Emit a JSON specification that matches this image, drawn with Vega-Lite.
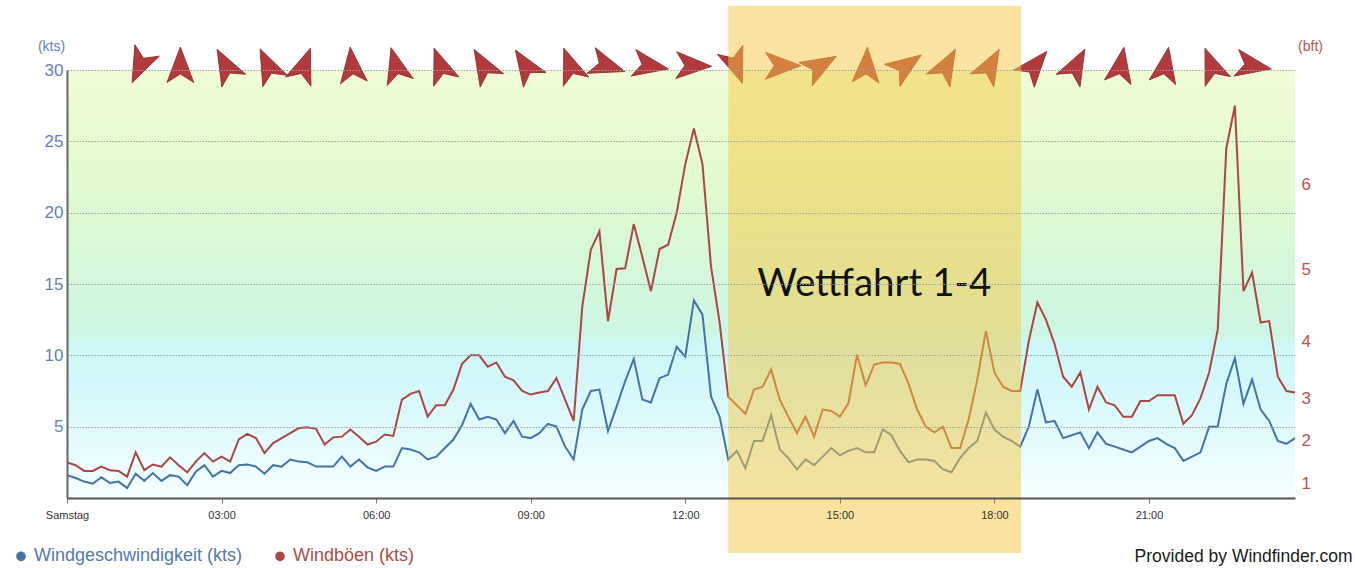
{
 "$schema": "https://vega.github.io/schema/vega-lite/v6.json",
 "width": 1228,
 "height": 428,
 "autosize": {"type": "none"},
 "padding": {"left": 67, "top": 70, "right": 60, "bottom": 70},
 "background": "white",
 "config": {"view": {"stroke": null}, "font": "Liberation Sans"},
 "datasets": {
  "wind": [
   {"min":0,"speed":1.6,"gust":2.5},{"min":10,"speed":1.4,"gust":2.3},{"min":20,"speed":1.15,"gust":1.9},{"min":30,"speed":1.0,"gust":1.9},
   {"min":40,"speed":1.45,"gust":2.2},{"min":50,"speed":1.05,"gust":1.95},{"min":60,"speed":1.15,"gust":1.9},{"min":70,"speed":0.7,"gust":1.5},
   {"min":80,"speed":1.7,"gust":3.2},{"min":90,"speed":1.2,"gust":1.95},{"min":100,"speed":1.75,"gust":2.35},{"min":110,"speed":1.2,"gust":2.2},
   {"min":120,"speed":1.6,"gust":2.85},{"min":130,"speed":1.5,"gust":2.3},{"min":140,"speed":0.9,"gust":1.8},{"min":150,"speed":1.85,"gust":2.55},
   {"min":160,"speed":2.3,"gust":3.15},{"min":170,"speed":1.5,"gust":2.55},{"min":180,"speed":1.9,"gust":2.9},{"min":190,"speed":1.75,"gust":2.55},
   {"min":200,"speed":2.3,"gust":4.1},{"min":210,"speed":2.35,"gust":4.5},{"min":220,"speed":2.2,"gust":4.2},{"min":230,"speed":1.7,"gust":3.15},
   {"min":240,"speed":2.3,"gust":3.85},{"min":250,"speed":2.2,"gust":4.2},{"min":260,"speed":2.7,"gust":4.55},{"min":270,"speed":2.55,"gust":4.9},
   {"min":280,"speed":2.5,"gust":4.95},{"min":290,"speed":2.2,"gust":4.85},{"min":300,"speed":2.2,"gust":3.75},{"min":310,"speed":2.2,"gust":4.25},
   {"min":320,"speed":2.9,"gust":4.3},{"min":330,"speed":2.2,"gust":4.8},{"min":340,"speed":2.7,"gust":4.3},{"min":350,"speed":2.15,"gust":3.75},
   {"min":360,"speed":1.9,"gust":3.95},{"min":370,"speed":2.2,"gust":4.45},{"min":380,"speed":2.2,"gust":4.35},{"min":390,"speed":3.5,"gust":6.9},
   {"min":400,"speed":3.4,"gust":7.3},{"min":410,"speed":3.2,"gust":7.5},{"min":420,"speed":2.7,"gust":5.7},{"min":430,"speed":2.9,"gust":6.5},
   {"min":440,"speed":3.5,"gust":6.5},{"min":450,"speed":4.1,"gust":7.6},{"min":460,"speed":5.1,"gust":9.4},{"min":470,"speed":6.6,"gust":10.0},
   {"min":480,"speed":5.5,"gust":10.0},{"min":490,"speed":5.7,"gust":9.2},{"min":500,"speed":5.5,"gust":9.5},{"min":510,"speed":4.55,"gust":8.5},
   {"min":520,"speed":5.4,"gust":8.25},{"min":530,"speed":4.3,"gust":7.5},{"min":540,"speed":4.2,"gust":7.25},{"min":550,"speed":4.55,"gust":7.4},
   {"min":560,"speed":5.2,"gust":7.5},{"min":570,"speed":5.0,"gust":8.4},{"min":580,"speed":3.6,"gust":6.9},{"min":590,"speed":2.7,"gust":5.4},
   {"min":600,"speed":6.2,"gust":13.4},{"min":610,"speed":7.5,"gust":17.4},{"min":620,"speed":7.6,"gust":18.7},{"min":630,"speed":4.7,"gust":12.4},
   {"min":640,"speed":6.4,"gust":16.05},{"min":650,"speed":8.2,"gust":16.1},{"min":660,"speed":9.75,"gust":19.2},{"min":670,"speed":6.9,"gust":16.9},
   {"min":680,"speed":6.7,"gust":14.5},{"min":690,"speed":8.4,"gust":17.45},{"min":700,"speed":8.65,"gust":17.75},{"min":710,"speed":10.6,"gust":20.0},
   {"min":720,"speed":9.9,"gust":23.4},{"min":730,"speed":13.85,"gust":25.9},{"min":740,"speed":12.85,"gust":23.4},{"min":750,"speed":7.1,"gust":16.2},
   {"min":760,"speed":5.7,"gust":12.3},{"min":770,"speed":2.7,"gust":7.1},{"min":780,"speed":3.3,"gust":6.5},{"min":790,"speed":2.1,"gust":5.9},
   {"min":800,"speed":4.0,"gust":7.6},{"min":810,"speed":4.0,"gust":7.8},{"min":820,"speed":5.8,"gust":9.0},{"min":830,"speed":3.4,"gust":6.9},
   {"min":840,"speed":2.8,"gust":5.7},{"min":850,"speed":2.0,"gust":4.55},{"min":860,"speed":2.7,"gust":5.7},{"min":870,"speed":2.3,"gust":4.3},
   {"min":880,"speed":2.9,"gust":6.2},{"min":890,"speed":3.5,"gust":6.1},{"min":900,"speed":3.0,"gust":5.7},{"min":910,"speed":3.3,"gust":6.65},
   {"min":920,"speed":3.5,"gust":10.05},{"min":930,"speed":3.2,"gust":7.9},{"min":940,"speed":3.2,"gust":9.35},{"min":950,"speed":4.8,"gust":9.5},
   {"min":960,"speed":4.4,"gust":9.5},{"min":970,"speed":3.3,"gust":9.4},{"min":980,"speed":2.5,"gust":8.0},{"min":990,"speed":2.7,"gust":6.2},
   {"min":1000,"speed":2.7,"gust":5.0},{"min":1010,"speed":2.6,"gust":4.6},{"min":1020,"speed":2.0,"gust":5.0},{"min":1030,"speed":1.8,"gust":3.5},
   {"min":1040,"speed":2.8,"gust":3.5},{"min":1050,"speed":3.5,"gust":5.5},{"min":1060,"speed":4.0,"gust":8.3},{"min":1070,"speed":6.0,"gust":11.7},
   {"min":1080,"speed":4.8,"gust":8.8},{"min":1090,"speed":4.3,"gust":7.8},{"min":1100,"speed":4.0,"gust":7.5},{"min":1110,"speed":3.6,"gust":7.5},
   {"min":1120,"speed":5.0,"gust":11.0},{"min":1130,"speed":7.6,"gust":13.7},{"min":1140,"speed":5.3,"gust":12.5},{"min":1150,"speed":5.4,"gust":10.8},
   {"min":1160,"speed":4.2,"gust":8.5},{"min":1170,"speed":4.4,"gust":7.8},{"min":1180,"speed":4.6,"gust":8.8},{"min":1190,"speed":3.5,"gust":6.2},
   {"min":1200,"speed":4.6,"gust":7.8},{"min":1210,"speed":3.8,"gust":6.7},{"min":1220,"speed":3.6,"gust":6.5},{"min":1230,"speed":3.4,"gust":5.7},
   {"min":1240,"speed":3.2,"gust":5.7},{"min":1250,"speed":3.6,"gust":6.8},{"min":1260,"speed":4.0,"gust":6.8},{"min":1270,"speed":4.2,"gust":7.2},
   {"min":1280,"speed":3.8,"gust":7.2},{"min":1290,"speed":3.5,"gust":7.2},{"min":1300,"speed":2.6,"gust":5.2},{"min":1310,"speed":2.9,"gust":5.8},
   {"min":1320,"speed":3.2,"gust":7.0},{"min":1330,"speed":5.0,"gust":8.8},{"min":1340,"speed":5.0,"gust":11.8},{"min":1350,"speed":8.0,"gust":24.5},
   {"min":1360,"speed":9.8,"gust":27.5},{"min":1370,"speed":6.6,"gust":14.5},{"min":1380,"speed":8.3,"gust":15.8},{"min":1390,"speed":6.2,"gust":12.3},
   {"min":1400,"speed":5.4,"gust":12.4},{"min":1410,"speed":4.0,"gust":8.5},{"min":1420,"speed":3.8,"gust":7.5},{"min":1430,"speed":4.2,"gust":7.4}
  ],
  "dirs": [
   {"min":85,"dir":205},{"min":132,"dir":0},{"min":185,"dir":-28},{"min":234,"dir":-25},{"min":276,"dir":20},
   {"min":332,"dir":-6},{"min":383,"dir":-15},{"min":435,"dir":-20},{"min":485,"dir":-30},{"min":534,"dir":-33},
   {"min":586,"dir":-20},{"min":629,"dir":108},{"min":679,"dir":100},{"min":729,"dir":92},{"min":779,"dir":160},
   {"min":833,"dir":90},{"min":877,"dir":60},{"min":931,"dir":3},{"min":977,"dir":55},{"min":1024,"dir":29},
   {"min":1075,"dir":29},{"min":1127,"dir":40},{"min":1175,"dir":28},{"min":1227,"dir":10},{"min":1279,"dir":10},
   {"min":1333,"dir":-21},{"min":1381,"dir":100}
  ],
  "events": [
   {"label": "Wettfahrt 1-4", "start": 770, "end": 1111}
  ]
 },
 "resolve": {"axis": {"y": "independent"}},
 "layer": [
  {
   "data": {"values": [{}]},
   "mark": {"type": "rect", "color": {"gradient": "linear", "x1": 0, "y1": 1, "x2": 0, "y2": 0, "stops": [
     {"offset": 0, "color": "#f5feff"},
     {"offset": 0.1, "color": "#e8fcfe"},
     {"offset": 0.27, "color": "#d3f8fb"},
     {"offset": 0.36, "color": "#cdf7f6"},
     {"offset": 0.385, "color": "#cdf6e2"},
     {"offset": 0.5, "color": "#d3f7dc"},
     {"offset": 0.67, "color": "#ddf9d2"},
     {"offset": 0.83, "color": "#e7fbd0"},
     {"offset": 1, "color": "#f0fcd8"}
   ]}, "opacity": 1},
   "encoding": {
    "x": {"datum": 0, "type": "quantitative", "scale": {"domain": [0, 1430], "nice": false, "zero": false},
     "axis": {"values": [0, 180, 360, 540, 720, 900, 1080, 1260], "labelExpr": "datum.value == 0 ? 'Samstag' : (datum.value < 600 ? '0' : '') + (datum.value / 60) + ':00'", "title": "Provided by Windfinder.com", "titleX": 1285, "titleY": 58, "titleAlign": "right", "titleBaseline": "middle", "titleAngle": 0, "titleFontSize": 17.5, "titleFontWeight": "normal", "titleColor": "#1a1a1a", "titleFont": "Liberation Sans", "grid": false, "domainColor": "#555555", "domainWidth": 2, "tickColor": "#777777", "tickSize": 5, "labelFontSize": 11, "labelColor": "#333333", "labelPadding": 6, "labelFont": "Liberation Sans", "labelFlush": false, "zindex": 1}},
    "x2": {"datum": 1430},
    "y": {"datum": 0, "type": "quantitative", "scale": {"domain": [0, 30], "nice": false}, "axis": null},
    "y2": {"datum": 30}
   }
  },
  {
   "data": {"name": "wind"},
   "mark": {"type": "line", "strokeWidth": 2},
   "encoding": {
    "x": {"field": "min", "type": "quantitative", "scale": {"domain": [0, 1430], "nice": false, "zero": false}},
    "y": {"field": "speed", "type": "quantitative", "scale": {"domain": [0, 30], "nice": false},
     "axis": {"orient": "left", "values": [5, 10, 15, 20, 25, 30], "title": "(kts)", "titleAngle": 0, "titleX": -16, "titleY": -24, "titleAlign": "center", "titleBaseline": "middle", "titleFontSize": 14, "titleFontWeight": "normal", "titleColor": "#5f82b5", "titleFont": "Liberation Sans", "labelColor": "#5f82b5", "labelFontSize": 17, "labelFont": "Liberation Sans", "labelPadding": 4, "ticks": false, "domainColor": "#666666", "domainWidth": 2, "grid": true, "gridColor": "#99a2a2", "gridDash": [1.5, 1.5], "gridWidth": 1, "zindex": 1}},
    "color": {"datum": "Windgeschwindigkeit (kts)", "type": "nominal",
     "scale": {"domain": ["Windgeschwindigkeit (kts)", "Windböen (kts)"], "range": ["#4572a7", "#aa4643"]},
     "legend": {"orient": "none", "legendX": -55, "legendY": 477, "direction": "horizontal", "title": null, "symbolType": "circle", "symbolSize": 22, "symbolStrokeWidth": 5, "labelFontSize": 18, "labelFont": "Liberation Sans", "labelLimit": 400, "columnPadding": 24, "labelColor": {"expr": "datum.value == 'Windböen (kts)' ? '#b24a46' : '#5378ae'"}}}
   }
  },
  {
   "data": {"name": "wind"},
   "mark": {"type": "line", "strokeWidth": 2},
   "encoding": {
    "x": {"field": "min", "type": "quantitative", "scale": {"domain": [0, 1430], "nice": false, "zero": false}},
    "y": {"field": "gust", "type": "quantitative", "scale": {"domain": [0, 30], "nice": false},
     "axis": {"orient": "right", "values": [1, 4, 7, 11, 16, 22], "labelExpr": "datum.value == 1 ? '1' : datum.value == 4 ? '2' : datum.value == 7 ? '3' : datum.value == 11 ? '4' : datum.value == 16 ? '5' : '6'", "title": "(bft)", "titleAngle": 0, "titleX": 15, "titleY": -24, "titleAlign": "center", "titleBaseline": "middle", "titleFontSize": 14, "titleFontWeight": "normal", "titleColor": "#b8534f", "titleFont": "Liberation Sans", "labelColor": "#b8534f", "labelFontSize": 17, "labelFont": "Liberation Sans", "labelPadding": 6, "ticks": false, "domain": false, "grid": false}},
    "color": {"datum": "Windböen (kts)", "type": "nominal"}
   }
  },
  {
   "data": {"name": "dirs"},
   "mark": {"type": "point", "shape": "M0,-1L0.72,0.9L0,0.44L-0.72,0.9Z", "filled": true, "color": "#b23a3c", "stroke": "#8e2b2e", "strokeWidth": 0.8, "opacity": 1, "size": 1400},
   "encoding": {
    "x": {"field": "min", "type": "quantitative", "scale": {"domain": [0, 1430], "nice": false, "zero": false}},
    "y": {"datum": 30.3, "type": "quantitative", "scale": {"domain": [0, 30], "nice": false}, "axis": null},
    "angle": {"field": "dir", "type": "quantitative", "scale": null}
   }
  },
  {
   "data": {"name": "events"},
   "mark": {"type": "rect", "color": "#f5c842", "opacity": 0.5},
   "encoding": {
    "x": {"field": "start", "type": "quantitative", "scale": {"domain": [0, 1430], "nice": false, "zero": false}},
    "x2": {"field": "end"},
    "y": {"datum": -3.85, "type": "quantitative", "scale": {"domain": [0, 30], "nice": false}, "axis": null},
    "y2": {"datum": 34.5}
   }
  },
  {
   "data": {"name": "events"},
   "mark": {"type": "text", "font": "Lato", "fontSize": 38.5, "color": "#111111", "align": "center", "baseline": "middle"},
   "encoding": {
    "x": {"datum": 940, "type": "quantitative", "scale": {"domain": [0, 1430], "nice": false, "zero": false}},
    "y": {"datum": 15, "type": "quantitative", "scale": {"domain": [0, 30], "nice": false}, "axis": null},
    "text": {"field": "label"}
   }
  }
 ]
}
